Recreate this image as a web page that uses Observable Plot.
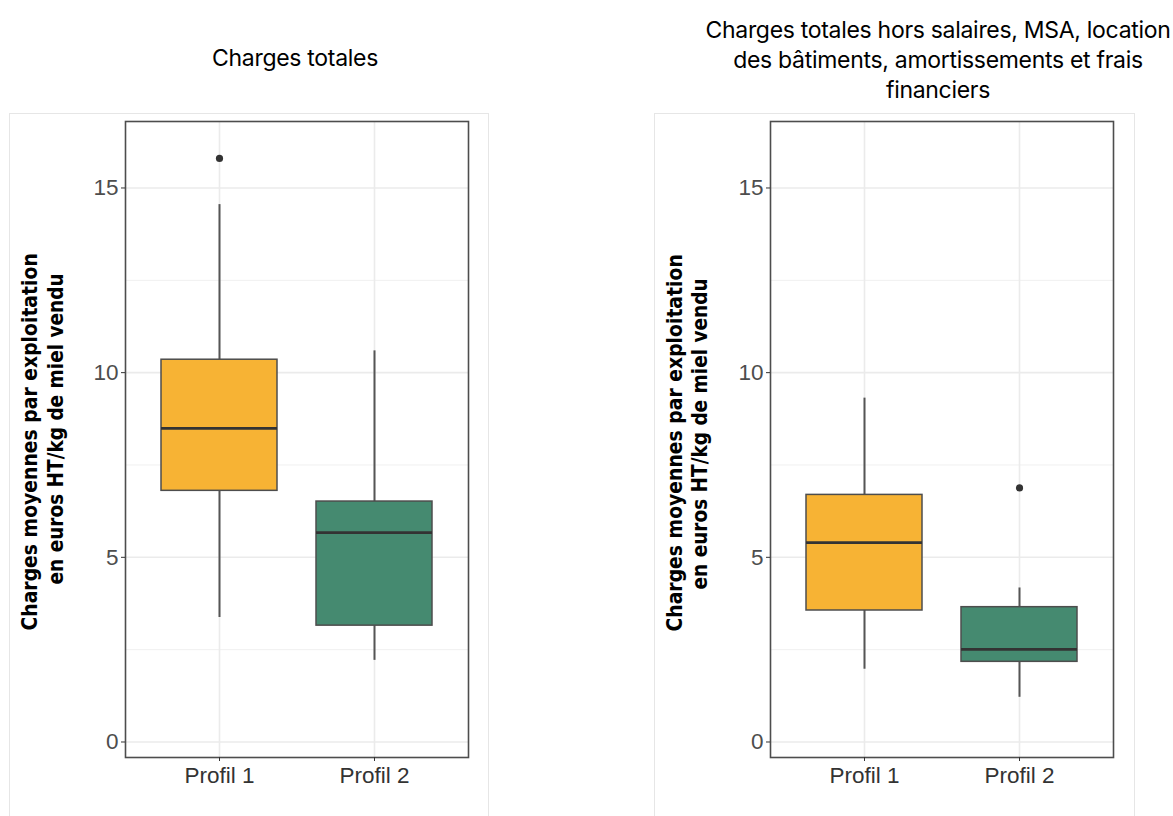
<!DOCTYPE html>
<html><head><meta charset="utf-8">
<script src="https://cdn.jsdelivr.net/npm/d3@7"></script>
<script src="https://cdn.jsdelivr.net/npm/@observablehq/plot@0.6"></script>
<style>
body{margin:0;background:#fff;}
#root{position:relative;width:1173px;height:816px;overflow:hidden;background:#fff;}
.outer{position:absolute;border:1px solid #e6e6e6;top:113px;height:760px;}
.title{position:absolute;font-family:Inter,"Noto Sans",sans-serif;font-size:23px;color:#000;text-align:center;line-height:30px;white-space:nowrap;transform:translateX(-50%);letter-spacing:-0.3px;}
.ylab{position:absolute;left:0;top:0;font-family:"Liberation Sans Narrow","Arial Narrow","DejaVu Sans Condensed",sans-serif;font-weight:bold;font-size:22px;line-height:22px;white-space:nowrap;color:#000;}
.panel{position:absolute;top:0;}
</style></head>
<body><div id="root"></div>
<script>
// ---- data ----
const profiles = ["Profil 1", "Profil 2"];
const boxColors = ["#F7B334", "#458A70"];
const yTicks = [0, 5, 10, 15];
const yMinor = [2.5, 7.5, 12.5];

const titleTotal = "Charges totales";
const titleHors = ["Charges totales hors salaires, MSA, location", "des bâtiments, amortissements et frais", "financiers"];
const yLabel = ["Charges moyennes par exploitation", "en euros HT/kg de miel vendu"];

// Charges totales (per profile)
const totLow    = [3.37, 2.21];
const totQ1     = [6.80, 3.15];
const totMedian = [8.49, 5.67];
const totQ3     = [10.35, 6.51];
const totHigh   = [14.55, 10.59];
const totOutliers = [{profil: "Profil 1", v: 15.80}];

// Charges totales hors salaires ...
const horsLow    = [1.97, 1.21];
const horsQ1     = [3.56, 2.17];
const horsMedian = [5.40, 2.51];
const horsQ3     = [6.69, 3.65];
const horsHigh   = [9.31, 4.17];
const horsOutliers = [{profil: "Profil 2", v: 6.88}];

function makePanel(low, q1, med, q3, high, outliers) {
  const stats = profiles.map((p, i) => ({profil: p, low: low[i], q1: q1[i], med: med[i], q3: q3[i], high: high[i]}));
  return Plot.plot({
    width: 490, height: 800,
    marginLeft: 125, marginRight: 22, marginTop: 121, marginBottom: 43,
    style: {fontFamily: "'Liberation Sans', Arial, sans-serif", fontSize: "22.5px", color: "#4d4d4d", background: "transparent", overflow: "visible"},
    x: {type: "band", domain: profiles, paddingInner: 0.25, paddingOuter: 0.225, label: null},
    y: {domain: [-0.42, 16.8], label: null},
    color: {domain: profiles, range: boxColors},
    marks: [
      Plot.ruleY(yMinor, {stroke: "#f0f0f0", strokeWidth: 1}),
      Plot.ruleY(yTicks, {stroke: "#ebebeb", strokeWidth: 1.6}),
      Plot.ruleX(profiles, {x: d => d, stroke: "#ebebeb", strokeWidth: 1.6}),
      Plot.ruleX(stats, {x: "profil", y1: "low", y2: "q1", stroke: "#555555", strokeWidth: 2}),
      Plot.ruleX(stats, {x: "profil", y1: "q3", y2: "high", stroke: "#555555", strokeWidth: 2}),
      Plot.barY(stats, {x: "profil", y1: "q1", y2: "q3", fill: "profil", stroke: "#4d4d4d", strokeWidth: 1.5}),
      Plot.tickY(stats, {x: "profil", y: "med", stroke: "#333333", strokeWidth: 2.8}),
      Plot.dot(outliers, {x: "profil", y: "v", r: 3.6, fill: "#333333", stroke: null}),
      Plot.frame({stroke: "#4d4d4d", strokeWidth: 1.6}),
      Plot.axisY(yTicks, {tickSize: 4, tickPadding: 3, stroke: "#333", fill: "#4d4d4d", fontSize: 22.5, fontFamily: "'Liberation Sans', Arial, sans-serif"}),
      Plot.axisX(profiles, {tickSize: 4, tickPadding: 6, stroke: "#333", fill: "#333", fontSize: 22.5, fontFamily: "'Liberation Sans', Arial, sans-serif"})
    ]
  });
}

const root = document.getElementById("root");
function add(html, cls, style) {
  const d = document.createElement("div");
  d.className = cls;
  Object.assign(d.style, style);
  d.innerHTML = html;
  root.appendChild(d);
  return d;
}
add("", "outer", {left: "9px", width: "478px"});
add("", "outer", {left: "654px", width: "479px"});

const p1 = makePanel(totLow, totQ1, totMedian, totQ3, totHigh, totOutliers);
const w1 = add("", "panel", {left: "0px"}); w1.appendChild(p1);
const p2 = makePanel(horsLow, horsQ1, horsMedian, horsQ3, horsHigh, horsOutliers);
const w2 = add("", "panel", {left: "645px"}); w2.appendChild(p2);

add(titleTotal, "title", {left: "295px", top: "43px"});
add(titleHors.join("<br>"), "title", {left: "938px", top: "15px"});

// rotated y labels: [cx, cy, targetLength]
function ylab(text, cx, cy, len) {
  const d = add(text, "ylab", {});
  const w = d.offsetWidth, h = d.offsetHeight;
  const s = len / w;
  d.style.transformOrigin = "0 0";
  d.style.transform = `translate(${cx - h/2}px, ${cy + len/2}px) rotate(-90deg) scale(${s},1)`;
}
ylab(yLabel[0], 30, 442, 377);
ylab(yLabel[1], 56, 429, 311);
ylab(yLabel[0], 675, 443, 377);
ylab(yLabel[1], 700, 434, 311);
</script>
</body></html>
